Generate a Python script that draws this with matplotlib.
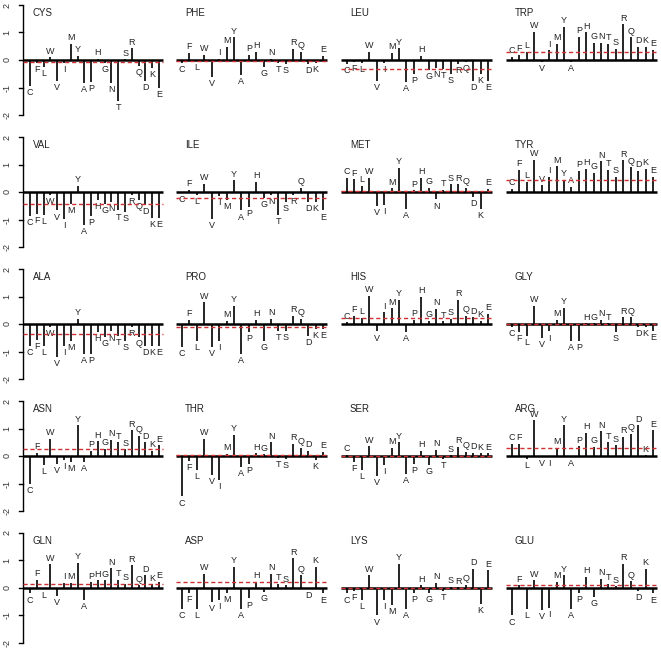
import matplotlib
matplotlib.use('Agg')
import matplotlib.pyplot as plt

plt.rcParams['font.family'] = ['Liberation Sans', 'DejaVu Sans']

residues = ['C', 'F', 'L', 'W', 'V', 'I', 'M', 'Y', 'A', 'P',
            'H', 'G', 'N', 'T', 'S', 'R', 'Q', 'D', 'K', 'E']
panel_names = ['CYS', 'PHE', 'LEU', 'TRP',
               'VAL', 'ILE', 'MET', 'TYR',
               'ALA', 'PRO', 'HIS', 'GLY',
               'ASN', 'THR', 'SER', 'ARG',
               'GLN', 'ASP', 'LYS', 'GLU']

cys = [-0.95, -0.12, -0.25, 0.10, -0.75, -0.10, 0.58, 0.15, -0.85, -0.80,
       0.05, -0.10, -0.85, -1.50, 0.03, 0.42, -0.20, -0.75, -0.30, -1.00]
phe = [-0.10, 0.25, -0.05, 0.18, -0.60, 0.05, 0.48, 0.82, -0.55, 0.18,
       0.30, -0.25, 0.05, -0.10, -0.15, 0.40, 0.30, -0.15, -0.12, 0.15]
leu = [-0.15, -0.07, -0.10, 0.30, -0.75, -0.10, 0.25, 0.42, -0.80, -0.50,
       0.15, -0.35, -0.30, -0.33, -0.50, -0.15, -0.06, -0.75, -0.50, -0.75]
trp = [0.12, 0.20, 0.30, 1.03, -0.07, 0.35, 0.60, 1.20, -0.06, 0.85,
       1.00, 0.63, 0.63, 0.60, 0.40, 1.30, 0.82, 0.48, 0.48, 0.36]
val = [-0.88, -0.80, -0.85, -0.12, -0.67, -0.97, -0.45, 0.22, -1.20, -0.88,
       -0.30, -0.42, -0.36, -0.67, -0.72, -0.12, -0.30, -0.48, -0.93, -0.93]
ile = [-0.05, 0.07, -0.10, 0.30, -0.97, -0.15, -0.30, 0.42, -0.67, -0.55,
       0.36, -0.20, -0.12, -0.85, -0.36, -0.12, 0.16, -0.36, -0.36, -0.67]
met = [0.52, 0.46, 0.22, 0.52, -0.50, -0.47, 0.13, 0.88, -0.63, 0.06,
       0.52, 0.16, -0.27, 0.07, 0.28, 0.28, 0.16, -0.18, -0.63, 0.12]
tyr = [0.12, 0.80, 0.36, 1.18, 0.24, 0.55, 0.93, 0.45, 0.20, 0.76,
       0.85, 0.70, 1.12, 0.80, 0.55, 1.15, 0.90, 0.76, 0.85, 0.55]
ala = [-0.80, -0.58, -0.80, -0.12, -1.20, -0.80, -0.60, 0.18, -1.10, -1.10,
       -0.30, -0.48, -0.27, -0.42, -0.60, -0.12, -0.48, -0.80, -0.80, -0.80]
pro = [-0.85, 0.16, -0.60, 0.79, -0.85, -0.60, 0.12, 0.67, -1.10, -0.30,
       0.16, -0.60, 0.18, -0.24, -0.24, 0.30, 0.18, -0.42, -0.18, -0.18]
his = [0.06, 0.30, 0.22, 1.03, -0.27, 0.42, 0.57, 0.88, -0.30, 0.15,
       1.00, 0.12, 0.55, 0.10, 0.18, 0.88, 0.30, 0.24, 0.12, 0.36]
gly = [-0.12, -0.30, -0.42, 0.67, -0.50, -0.27, 0.15, 0.60, -0.60, -0.60,
       0.02, 0.02, 0.15, 0.03, -0.30, 0.24, 0.24, -0.12, -0.12, -0.24]
asn = [-1.00, 0.11, -0.34, 0.63, -0.28, -0.16, -0.22, 1.12, -0.22, 0.20,
       0.53, 0.27, 0.60, 0.50, 0.24, 0.93, 0.73, 0.50, 0.20, 0.39]
thr = [-1.47, -0.18, -0.52, 0.63, -0.70, -0.86, 0.08, 0.78, -0.40, -0.28,
       0.10, 0.06, 0.50, -0.08, -0.10, 0.45, 0.30, 0.18, -0.16, 0.15]
ser = [0.05, -0.22, -0.52, 0.35, -0.74, -0.34, 0.30, 0.50, -0.64, -0.28,
       0.20, -0.34, 0.23, -0.10, 0.03, 0.33, 0.15, 0.11, 0.10, 0.10]
arg = [0.45, 0.45, -0.10, 1.30, -0.04, -0.04, 0.30, 1.12, -0.04, 0.35,
       0.85, 0.33, 0.90, 0.50, 0.39, 0.70, 0.80, 1.12, 0.03, 0.93]
gln = [-0.20, 0.30, -0.03, 0.86, -0.30, 0.18, 0.18, 0.92, -0.45, 0.20,
       0.28, 0.28, 0.72, 0.30, 0.16, 0.82, 0.10, 0.46, 0.13, 0.22]
asp = [-0.75, -0.18, -0.75, 0.52, -0.50, -0.45, -0.18, 0.76, -0.75, -0.38,
       0.22, -0.15, 0.52, 0.16, 0.10, 1.08, 0.46, -0.02, 0.76, -0.20]
lys = [-0.20, -0.12, -0.45, 0.46, -1.00, -0.45, -0.63, 0.88, -0.75, -0.18,
       0.10, -0.18, 0.18, -0.12, 0.04, 0.03, 0.12, 0.70, -0.57, 0.64]
glu = [-1.00, 0.10, -0.75, 0.28, -0.80, -0.72, 0.22, 0.46, -0.75, -0.18,
       0.40, -0.33, 0.34, 0.16, 0.06, 0.88, 0.24, -0.12, 0.70, -0.20]

ref_lines = [-0.07, -0.05, -0.33, 0.30,
             -0.42, -0.22, 0.04, 0.42,
             -0.38, -0.10, 0.22, 0.00,
             0.27, 0.02, 0.00, 0.29,
             0.15, 0.20, 0.00, 0.10]

y_ticks = [-2, -1, 0, 1, 2]

panel_values = [cys, phe, leu, trp, val, ile, met, tyr, ala, pro,
                his, gly, asn, thr, ser, arg, gln, asp, lys, glu]

W, H = 661, 650
fig = plt.figure(figsize=(W / 100, H / 100), dpi=100)

zero_px = [60, 192, 324, 456, 588]
ppu_y = 27.5
first_px = [30, 182, 347, 512]
last_px = [159, 323, 488, 653]
ylo, yhi = -2.35, 2.18

for k, (name, vals, ref) in enumerate(zip(panel_names, panel_values, ref_lines)):
    r, c = divmod(k, 4)
    ppu_x = (last_px[c] - first_px[c]) / 19.0
    left_px = first_px[c] - ppu_x
    width_px = 21 * ppu_x
    top_px = zero_px[r] - yhi * ppu_y
    bot_px = zero_px[r] - ylo * ppu_y
    ax = fig.add_axes([left_px / W, 1 - bot_px / H, width_px / W, (bot_px - top_px) / H])
    ax.set_xlim(0, 21)
    ax.set_ylim(ylo, yhi)
    ax.axis('off')

    xs = list(range(1, 21))
    ax.vlines(xs, 0, vals, color='black', lw=1.2, zorder=2)
    x0 = 0.0 if c == 0 else 0.2
    ax.hlines(0, x0, 20.6, color='black', lw=1.8, zorder=3)
    ax.hlines(ref, x0, 20.6, color='#d03030', lw=1.0, linestyle=(0, (3, 2)), zorder=4)

    for x, v, lab in zip(xs, vals, residues):
        if v >= 0:
            ax.annotate(lab, (x, v), xytext=(0, 1.2), textcoords='offset points',
                        ha='center', va='bottom', fontsize=6.5, color='#222222',
                        annotation_clip=False)
        else:
            ax.annotate(lab, (x, v), xytext=(0, -1.5), textcoords='offset points',
                        ha='center', va='top', fontsize=6.5, color='#222222',
                        annotation_clip=False)

    ax.text(1.4, 1.72, name, ha='left', va='center', fontsize=7, color='#222222')

    if c == 0:
        ax.vlines(0, -2, 2, color='black', lw=1.0, clip_on=False)
        for t in y_ticks:
            ax.plot([-0.55, 0], [t, t], color='black', lw=1.0, clip_on=False)
            ax.text(-2.35, t, str(t), rotation=90, ha='center', va='center',
                    fontsize=6.5, color='#333333', clip_on=False)

fig.savefig('out.png', dpi=100)
